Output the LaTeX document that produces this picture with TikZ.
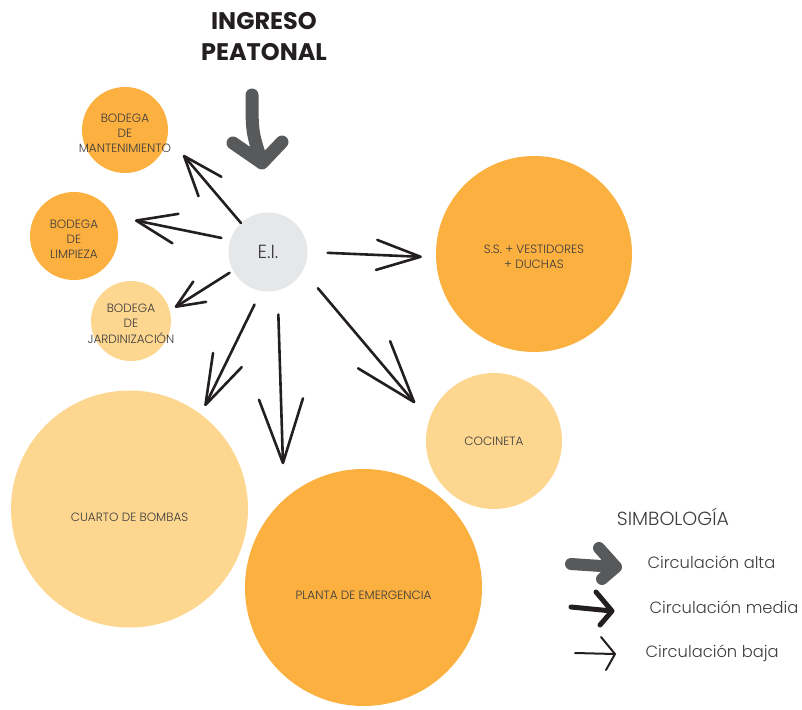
\documentclass[tikz,border=0pt]{standalone}
\usepackage{fontspec}
\setmainfont{Poppins}[UprightFont=* Light,BoldFont=* Bold]
\usetikzlibrary{arrows.meta}
\definecolor{naranja}{HTML}{FBB040}
\definecolor{crema}{HTML}{FDD690}
\definecolor{grisei}{HTML}{E6E7E8}
\definecolor{grisfl}{HTML}{58595B}
\definecolor{tinta}{HTML}{231F20}
\definecolor{texto}{HTML}{3C3C3E}

\tikzset{
  espacio/.style={circle,inner sep=0pt,text=texto,font=\fontsize{12}{15}\selectfont},
  flecha/.style 2 args={tinta,line width=2.6pt,line cap=round,-{Straight Barb[length=#1,width=#2,round]}},
  leyenda/.style={anchor=west,text=texto,font=\fontsize{16.3}{19}\selectfont}
}
% texto que puede salirse del circulo
\newcommand{\rotulo}[1]{\makebox[0pt]{\raisebox{-4pt}[\height][\depth]{\begin{tabular}{@{}c@{}}#1\end{tabular}}}}
\newcommand{\bajar}[1]{\raisebox{-8pt}[\height][\depth]{#1}}

\begin{document}
\begin{tikzpicture}[x=1pt,y=-1pt]
    \useasboundingbox (0,0) rectangle (802,709);
    % espacios
    \node[espacio,fill=naranja,minimum size=86pt] (mant) at (125,130) {\rotulo{BODEGA\\DE\\MANTENIMIENTO}};
    \node[espacio,fill=naranja,minimum size=88pt] (limp) at (74,236) {\rotulo{BODEGA\\DE\\LIMPIEZA}};
    \node[espacio,fill=crema,minimum size=80pt] (jard) at (131,321) {\rotulo{BODEGA\\DE\\JARDINIZACIÓN}};
    \node[espacio,fill=grisei,minimum size=79pt,font=\fontsize{19}{22}\selectfont] (ei) at (268,252) {E.I.};
    \node[espacio,fill=naranja,minimum size=196pt] (ss) at (534,254) {\rotulo{S.S. + VESTIDORES\\+ DUCHAS}};
    \node[espacio,fill=crema,minimum size=136pt] (coc) at (494,441) {COCINETA};
    \node[espacio,fill=crema,minimum size=237pt] (bomb) at (129.5,509) {\bajar{CUARTO DE BOMBAS}};
    \node[espacio,fill=naranja,minimum size=237pt] (planta) at (363.5,587.5) {\bajar{PLANTA DE EMERGENCIA}};
    % ingreso
    \node[align=center,text=tinta,font=\bfseries\fontsize{24}{31}\selectfont] (ingreso) at (264,37) {INGRESO\\PEATONAL};
    \draw[grisfl,line width=13pt,line cap=round,line join=round]
      (252,95) .. controls (252,132) .. (262,163) coordinate (punta)
      (233,143) -- (punta) -- (282,142);
    % circulacion baja desde E.I.
    \foreach \sal/\dest/\lleg/\ini/\fin/\lar/\anc in {133/mant/-9/0/24/40/30, 162/limp/27/9/22/40/30,
        208/jard/15/4/6/28/24, 0/ss/182/20/14/44/30, -28/coc/162/23/22/62/42,
        260/bomb/53/15/9/50/32, 284/planta/132/24/35/64/44}
      \draw[flecha={\lar pt}{\anc pt},shorten <=\ini pt,shorten >=\fin pt] (ei.\sal) -- (\dest.\lleg);
    % simbologia
    \node[text=texto,font=\fontsize{19}{22}\selectfont] (simb) at (673,517) {SIMBOLOGÍA};
    \node[leyenda] (alta) at (644,562) {Circulación alta};
    \node[leyenda] (media) at (646,607) {Circulación media};
    \node[leyenda] (baja) at (642,653) {Circulación baja};
    \draw[grisfl,line width=12pt,line cap=round,line join=round]
      (571,564) -- (616,567) (599,548) -- (616,567) -- (602,579);
    \draw[tinta,line width=5pt,line cap=round,line join=round]
      (571,607) -- (612,611) (596,592) -- (612,611) -- (600,625);
    \draw[tinta,line width=2pt,line cap=round,line join=round]
      (575,653) -- (615,654) (601,637) -- (615,654) -- (606,670);
\end{tikzpicture}
\end{document}
